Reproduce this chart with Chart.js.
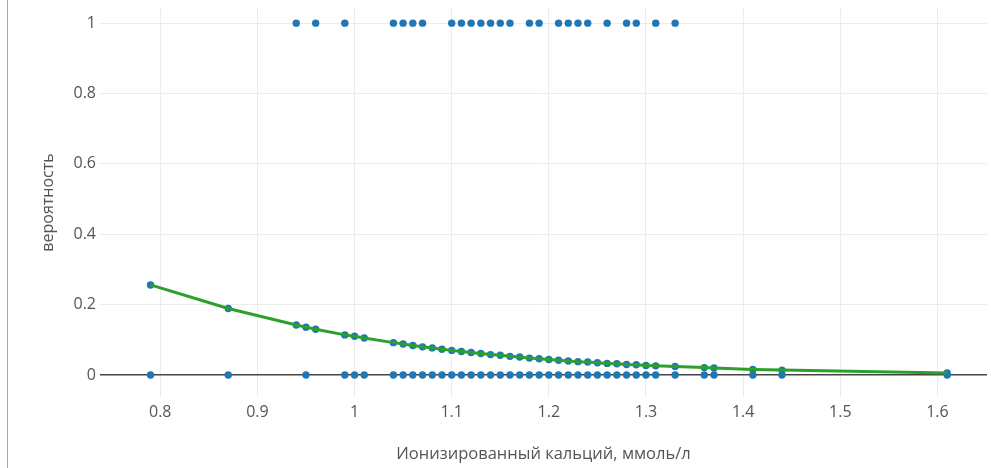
<!DOCTYPE html>
<html>
<head>
<meta charset="utf-8">
<script src="https://cdn.jsdelivr.net/npm/chart.js@4/dist/chart.umd.min.js"></script>
<style>
    html, body { margin: 0; padding: 0; background: #fff; }
    #wrap { position: relative; width: 991px; height: 468px; }
    #edge { position: absolute; left: 7px; top: 0; width: 1px; height: 468px; background: #a8a8a8; }
</style>
</head>
<body>
<div id="wrap">
    <div id="edge"></div>
    <canvas id="chart" width="991" height="468"></canvas>
</div>
<script>
// исходы = 1
const xOne = [0.94, 0.96, 0.99, 1.04, 1.05, 1.06, 1.07, 1.10, 1.11, 1.12, 1.13, 1.14, 1.15, 1.16,
    1.18, 1.19, 1.21, 1.22, 1.23, 1.24, 1.26, 1.28, 1.29, 1.31, 1.33];

// исходы = 0
const xZero = [0.79, 0.87, 0.95, 0.99, 1.00, 1.01, 1.04, 1.05, 1.06, 1.07, 1.08, 1.09, 1.10, 1.11,
    1.12, 1.13, 1.14, 1.15, 1.16, 1.17, 1.18, 1.19, 1.20, 1.21, 1.22, 1.23, 1.24, 1.25, 1.26, 1.27,
    1.28, 1.29, 1.30, 1.31, 1.33, 1.36, 1.37, 1.41, 1.44, 1.61];

// логистическая кривая
const xFit = [0.79, 0.87, 0.94, 0.95, 0.96, 0.99, 1.00, 1.01, 1.04, 1.05, 1.06, 1.07, 1.08, 1.09,
    1.10, 1.11, 1.12, 1.13, 1.14, 1.15, 1.16, 1.17, 1.18, 1.19, 1.20, 1.21, 1.22, 1.23, 1.24, 1.25,
    1.26, 1.27, 1.28, 1.29, 1.30, 1.31, 1.33, 1.36, 1.37, 1.41, 1.44, 1.61];
const pFit = [0.256, 0.189, 0.142, 0.136, 0.130, 0.114, 0.110, 0.105, 0.092, 0.088, 0.084, 0.080,
    0.077, 0.073, 0.070, 0.067, 0.064, 0.061, 0.058, 0.056, 0.053, 0.051, 0.048, 0.046, 0.044,
    0.042, 0.040, 0.038, 0.037, 0.035, 0.033, 0.032, 0.030, 0.029, 0.027, 0.026, 0.024, 0.021,
    0.020, 0.016, 0.014, 0.006];

const xTicks = [0.8, 0.9, 1, 1.1, 1.2, 1.3, 1.4, 1.5, 1.6];
const yTicks = [0, 0.2, 0.4, 0.6, 0.8, 1];

const blue = '#1f77b4';
const green = '#2ca02c';
const textColor = '#555';

function pts(xs, ys) {
    return xs.map((x, i) => ({ x: x, y: Array.isArray(ys) ? ys[i] : ys }));
}

document.addEventListener('DOMContentLoaded', function () {
    const ctx = document.getElementById('chart').getContext('2d');

    new Chart(ctx, {
        type: 'scatter',
        data: {
            datasets: [
                {
                    data: pts(xOne, 1),
                    backgroundColor: blue, borderColor: blue,
                    pointRadius: 3.7, borderWidth: 0, order: 3
                },
                {
                    data: pts(xZero, 0),
                    backgroundColor: blue, borderColor: blue,
                    pointRadius: 3.7, borderWidth: 0, order: 3
                },
                {
                    data: pts(xFit, pFit),
                    backgroundColor: blue, borderColor: blue,
                    pointRadius: 3.7, borderWidth: 0, order: 2
                },
                {
                    data: pts(xFit, pFit),
                    showLine: true,
                    borderColor: green, borderWidth: 3,
                    pointRadius: 0, tension: 0, order: 1
                }
            ]
        },
        options: {
            responsive: false,
            animation: false,
            layout: { padding: { top: 8, right: 0, bottom: 0, left: 0 } },
            plugins: {
                legend: { display: false },
                tooltip: { enabled: false }
            },
            scales: {
                x: {
                    type: 'linear',
                    min: 0.738,
                    max: 1.651,
                    afterBuildTicks: s => { s.ticks = xTicks.map(v => ({ value: v })); },
                    afterFit: s => { s.height = 71; s.paddingLeft = 0; s.paddingRight = 0; },
                    border: { display: false },
                    grid: { color: '#ececec', lineWidth: 1, drawTicks: false },
                    ticks: {
                        padding: 6,
                        color: textColor,
                        font: { family: 'Open Sans', size: 16 },
                        callback: v => String(v)
                    },
                    title: {
                        display: true,
                        text: 'Ионизированный кальций, ммоль/л',
                        color: textColor,
                        font: { family: 'Open Sans', size: 16.5 },
                        padding: { top: 0, bottom: 4 }
                    }
                },
                y: {
                    type: 'linear',
                    min: -0.0625,
                    max: 1.043,
                    afterBuildTicks: s => { s.ticks = yTicks.map(v => ({ value: v })); },
                    afterFit: s => { s.width = 100; s.paddingTop = 0; s.paddingBottom = 0; },
                    border: { display: false },
                    grid: {
                        drawTicks: false,
                        color: c => c.tick && c.tick.value === 0 ? '#444' : '#ececec',
                        lineWidth: c => c.tick && c.tick.value === 0 ? 1.6 : 1
                    },
                    ticks: {
                        padding: 4,
                        color: textColor,
                        font: { family: 'Open Sans', size: 16 },
                        callback: v => String(v)
                    },
                    title: {
                        display: true,
                        text: 'вероятность',
                        color: textColor,
                        font: { family: 'Open Sans', size: 16 },
                        padding: { top: 39, bottom: 0 }
                    }
                }
            }
        }
    });
});
</script>
</body>
</html>
